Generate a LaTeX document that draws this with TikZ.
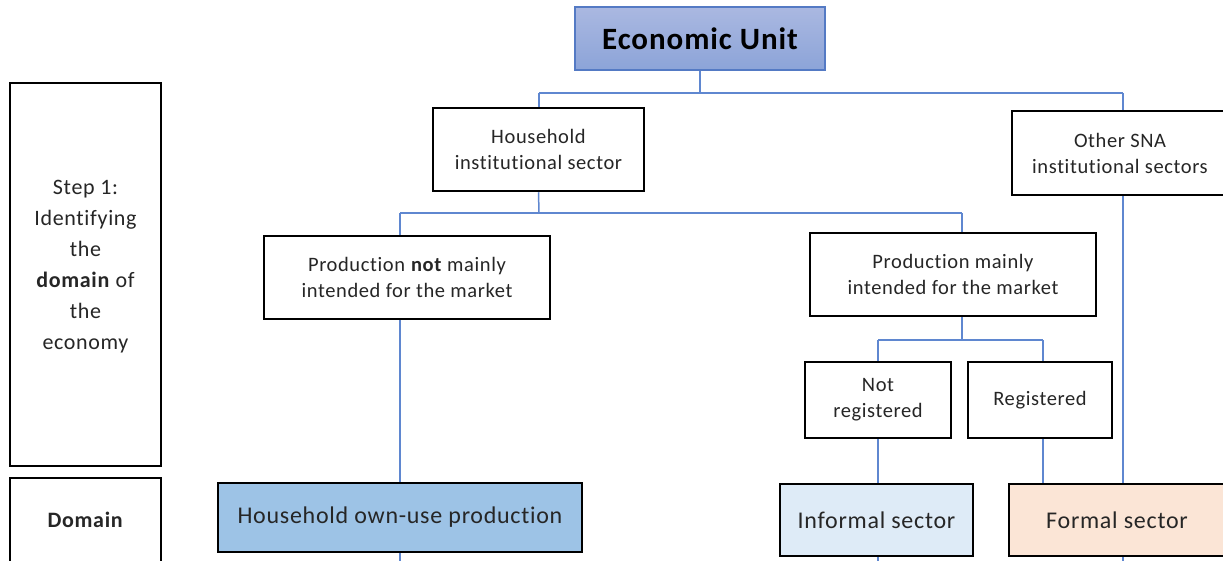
\documentclass[tikz,border=0pt]{standalone}
\usepackage{fontspec}
\setmainfont{Carlito}[Ligatures=NoCommon, LetterSpace=3]
\definecolor{conn}{RGB}{95,135,208}
\definecolor{txt}{RGB}{38,38,38}
\definecolor{euborder}{RGB}{84,122,196}
\definecolor{eutop}{RGB}{170,184,225}
\definecolor{eubot}{RGB}{140,164,216}
\definecolor{hopfill}{RGB}{157,195,230}
\definecolor{inffill}{RGB}{222,235,247}
\definecolor{frmfill}{RGB}{251,229,214}
\tikzset{
  box/.style={draw=black, line width=2.5pt, fill=white, inner sep=0pt, align=center, text=txt,
    font=\fontsize{20.5}{26}\selectfont},
  domainbox/.style={box, font=\fontsize{24}{28}\selectfont},
  sidebox/.style={box, font=\fontsize{22}{31}\selectfont},
  plaintext/.style={inner sep=0pt, align=center, text=txt, font=\fontsize{22}{31}\selectfont},
  link/.style={draw=conn, line width=1.5pt},
}
\begin{document}
\begin{tikzpicture}[x=1pt,y=-1pt]
\useasboundingbox (0,0) rectangle (1223,560);
% left column
\node[sidebox, minimum width=151, minimum height=383] (step) at (85.5,274.5) {};
\node[plaintext] (steptxt) at (85.5,267)
  {Step 1:\\Identifying\\the\\\textbf{domain} of\\the\\economy};
\node[sidebox, minimum width=151, minimum height=84] (dom) at (85.5,520) {\textbf{Domain}};
% top
\node[draw=euborder, line width=2pt, top color=eutop, bottom color=eubot, inner sep=0pt,
  minimum width=250, minimum height=63, text=black, font=\fontsize{31}{36}\selectfont\bfseries]
  (eu) at (700,38.5) {Economic Unit};
\node[box, minimum width=211, minimum height=83] (hh) at (538.5,149.5) {Household\\institutional sector};
\node[box, minimum width=216, minimum height=84] (oth) at (1120,153) {Other SNA\\institutional sectors};
\node[box, minimum width=286, minimum height=83] (pn) at (407,277.5) {Production \textbf{not} mainly\\intended for the market};
\node[box, minimum width=286, minimum height=83] (pm) at (953,274.5) {Production mainly\\intended for the market};
\node[box, minimum width=146, minimum height=76] (nr) at (878,400) {Not\\registered};
\node[box, minimum width=144, minimum height=76] (rg) at (1040,400) {Registered};
\node[domainbox, fill=hopfill, minimum width=364, minimum height=69] (hop) at (400,517.5) {Household own-use production};
\node[domainbox, fill=inffill, minimum width=193, minimum height=72] (inf) at (876.5,520) {Informal sector};
\node[domainbox, fill=frmfill, minimum width=216, minimum height=72] (frm) at (1117,520) {Formal sector};
% junction coordinates
\coordinate (b1) at (700,93);
\coordinate (b1l) at (539,93);
\coordinate (b1r) at (1123,93);
\coordinate (b2) at (539,213);
\coordinate (b2l) at (400,213);
\coordinate (b2r) at (962,213);
\coordinate (b3) at (962,340);
\coordinate (b3l) at (878,340);
\coordinate (b3r) at (1043,340);
\coordinate (e1) at (400,565);
\coordinate (e2) at (878,565);
\coordinate (e3) at (1123,565);
% connectors
\draw[link] (eu.south) -- (b1);
\draw[link] (b1l) -- (b1r);
\draw[link] (b1l) -- (b1l |- hh.north);
\draw[link] (b1r) -- (b1r |- oth.north);
\draw[link] (hh.south) -- (b2);
\draw[link] (b2l) -- (b2r);
\draw[link] (b2l) -- (b2l |- pn.north);
\draw[link] (b2r) -- (b2r |- pm.north);
\draw[link] (pm.south -| b3) -- (b3);
\draw[link] (b3l) -- (b3r);
\draw[link] (b3l) -- (b3l |- nr.north);
\draw[link] (b3r) -- (b3r |- rg.north);
\draw[link] (pn.south -| b2l) -- (b2l |- hop.north);
\draw[link] (nr.south) -- (nr.south |- inf.north);
\draw[link] (rg.south -| b3r) -- (b3r |- frm.north);
\draw[link] (oth.south -| b1r) -- (b1r |- frm.north);
\draw[link] (hop.south -| e1) -- (e1);
\draw[link] (inf.south -| e2) -- (e2);
\draw[link] (frm.south -| e3) -- (e3);
\end{tikzpicture}
\end{document}
